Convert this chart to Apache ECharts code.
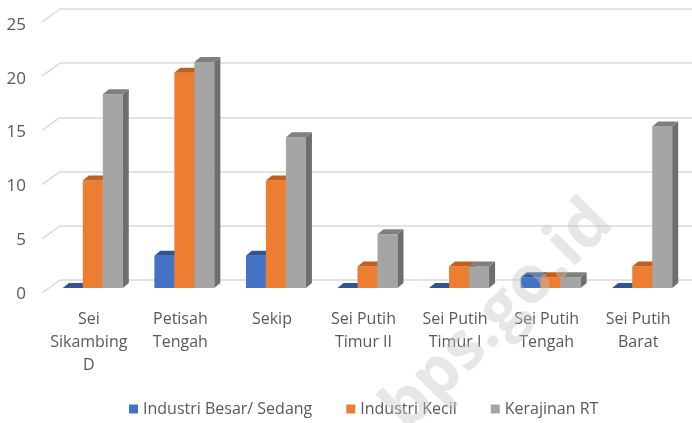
<!DOCTYPE html>
<html lang="en">
	<head>
		<meta charset="UTF-8" />
		<title>Industri per Kelurahan</title>
		<script src="https://cdn.jsdelivr.net/npm/echarts@6/dist/echarts.min.js"></script>
		<style>
			* { margin: 0; padding: 0; }
			html, body { height: 100%; background: #fff; }
		</style>
	</head>
	<body>
		<div id="main" style="width:692px;height:423px;"></div>
		<script type="text/javascript">
			// data
			var categories = ["Sei\nSikambing\nD", "Petisah\nTengah", "Sekip", "Sei Putih\nTimur II", "Sei Putih\nTimur I", "Sei Putih\nTengah", "Sei Putih\nBarat"];
			var seriesNames = ["Industri Besar/ Sedang", "Industri Kecil", "Kerajinan RT"];
			var besarSedang = [0, 3, 3, 0, 0, 1, 0];
			var kecil = [10, 20, 10, 2, 2, 1, 2];
			var kerajinanRT = [18, 21, 14, 5, 2, 1, 15];
			var yTicks = [0, 5, 10, 15, 20, 25];

			// front / side / top colours per series
			var palette = [
				{ front: "#4472C4", side: "#2F528F", top: "#2F5597" },
				{ front: "#ED7D31", side: "#AE5A21", top: "#C0601F" },
				{ front: "#A5A5A5", side: "#6E6E6E", top: "#7F7F7F" }
			];
			var barW = 20, dx = 6, dy = -5;

			function bar3d(k) {
				return function (params, api) {
					var idx = api.value(0), v = api.value(1);
					var base = api.coord([idx, 0]);
					var top = api.coord([idx, v]);
					var x0 = base[0] + (k - 1.5) * barW;
					var x1 = x0 + barW;
					var yb = base[1], yt = top[1];
					var c = palette[k];
					var children = [];
					if (v > 0) {
						children.push({ type: "rect", shape: { x: x0, y: yt, width: barW, height: yb - yt }, style: { fill: c.front } });
						children.push({ type: "polygon", shape: { points: [[x1, yt], [x1 + dx, yt + dy], [x1 + dx, yb + dy], [x1, yb]] }, style: { fill: c.side } });
					}
					children.push({ type: "polygon", shape: { points: [[x0, yt], [x0 + dx, yt + dy], [x1 + dx, yt + dy], [x1, yt]] }, style: { fill: c.top } });
					return { type: "group", children: children };
				};
			}

			var lists = [besarSedang, kecil, kerajinanRT];
			var series = lists.map(function (arr, k) {
				return {
					name: seriesNames[k],
					type: "custom",
					xAxisIndex: 0,
					yAxisIndex: 0,
					itemStyle: { color: palette[k].front },
					renderItem: bar3d(k),
					data: arr.map(function (v, i) { return [i, v]; }),
					z: 3
				};
			});

			// slanted lines joining front plane to back wall
			series.push({
				type: "custom",
				xAxisIndex: 1,
				yAxisIndex: 1,
				silent: true,
				renderItem: function (params, api) {
					var p = api.coord([0, api.value(0)]);
					return { type: "line", shape: { x1: p[0] - 18, y1: p[1] + 13, x2: p[0], y2: p[1] }, style: { stroke: "#D9D9D9", lineWidth: 1.5 } };
				},
				data: yTicks.map(function (t) { return [t]; }),
				encode: { y: 0 },
				z: 1
			});

			var option = {
				animation: false,
				color: palette.map(function (c) { return c.front; }),
				textStyle: { fontFamily: "Open Sans" },
				grid: [
					{ left: 47, right: 4, top: 19, bottom: 135 },
					{ left: 60, right: 0, top: 9, bottom: 143 }
				],
				xAxis: [
					{
						type: "category",
						gridIndex: 0,
						data: categories,
						axisLine: { show: false },
						axisTick: { show: false },
						axisLabel: { color: "#595959", fontSize: 16, lineHeight: 23, margin: 20, interval: 0, padding: [0, 8, 0, 0] }
					},
					{ type: "value", gridIndex: 1, min: 0, max: 1, show: false }
				],
				yAxis: [
					{
						type: "value",
						gridIndex: 0,
						min: 0,
						max: 25,
						interval: 5,
						axisLine: { show: false },
						axisTick: { show: false },
						splitLine: { show: false },
						axisLabel: { color: "#595959", fontSize: 17, margin: 21, verticalAlign: "top", lineHeight: 12 }
					},
					{
						type: "value",
						gridIndex: 1,
						min: 0,
						max: 25,
						interval: 5,
						axisLine: { show: false },
						axisTick: { show: false },
						axisLabel: { show: false },
						splitLine: { lineStyle: { color: "#D9D9D9", width: 1.5 } }
					}
				],
				legend: {
					bottom: 1,
					left: 124,
					icon: "rect",
					itemWidth: 9,
					itemHeight: 9,
					itemGap: 34,
					data: seriesNames,
					textStyle: { color: "#595959", fontSize: 16 }
				},
				graphic: [
					{
						type: "text",
						x: 498,
						y: 316,
						rotation: 45 * Math.PI / 180,
						z: 100,
						style: {
							text: "bps.go.id",
							fontSize: 66,
							fontWeight: "bold",
							fontFamily: "Open Sans",
							fill: "rgba(195,195,195,0.4)",
							align: "center",
							verticalAlign: "middle"
						}
					}
				],
				series: series
			};

			var myChart = echarts.init(document.getElementById("main"));
			myChart.setOption(option);
		</script>
	</body>
</html>
